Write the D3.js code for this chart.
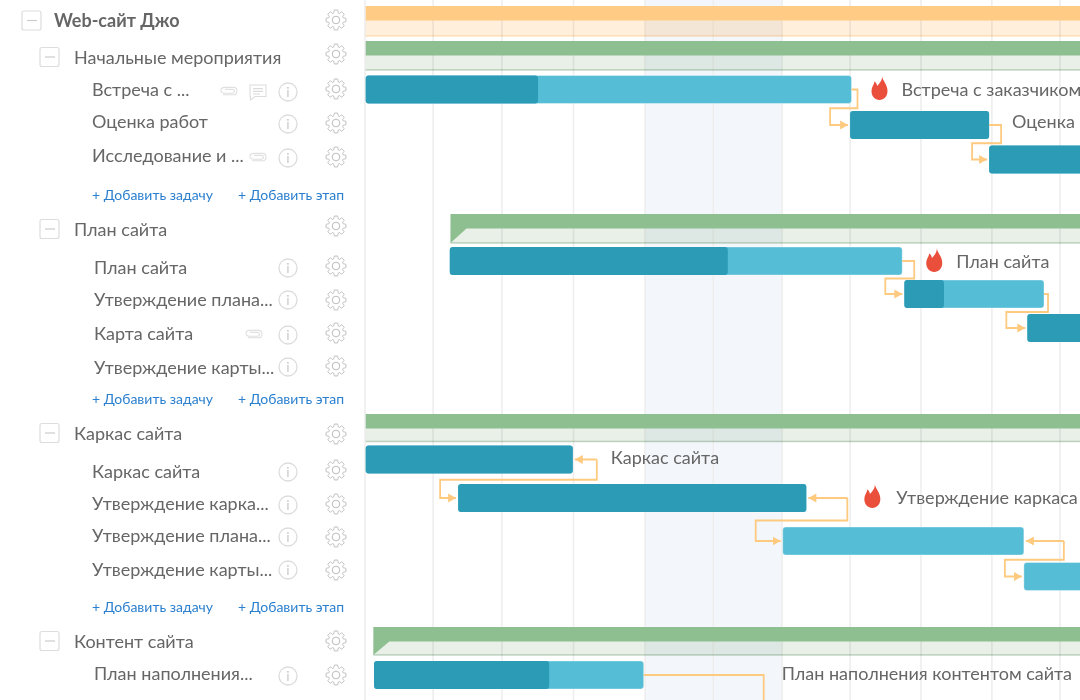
<!DOCTYPE html>
<html>
<head>
<meta charset="utf-8">
<script src="https://cdn.jsdelivr.net/npm/d3@7"></script>
<style>
  html, body { margin: 0; padding: 0; background: #fff; overflow: hidden; }
  svg { display: block; font-family: Lato, "Open Sans", sans-serif; }
  .band { mix-blend-mode: multiply; }
</style>
</head>
<body>
<svg id="gantt" width="1080" height="700"></svg>
<script>
// values are in working days from the left edge of the visible timeline
const gridDays = [0, 0.98, 1.97, 3, 4.03, 5.01, 6, 6.98, 8, 9.02, 10];
const weekendStart = 4.03;
const weekendEnd = 6;

const phaseNames = ["Web-сайт Джо", "Начальные мероприятия", "План сайта", "Каркас сайта", "Контент сайта"];
const phaseStarts = [0.01, 0.01, 1.23, 0.01, 0.12];
const phaseEnds = [12, 12, 12, 12, 12];

const taskNames = ["Встреча с заказчиком", "Оценка", "Исследование и анализ",
  "План сайта", "Утверждение плана сайта", "Карта сайта",
  "Каркас сайта", "Утверждение каркаса", "Утверждение плана", "Утверждение карты",
  "План наполнения контентом сайта"];
const taskStarts = [0.01, 6.98, 8.98, 1.22, 7.76, 9.53, 0.01, 1.34, 6.01, 9.48, 0.13];
const taskEnds = [7.0, 8.98, 12, 7.73, 9.77, 12, 2.99, 6.35, 9.48, 12, 4.01];
const taskDone = [2.49, 8.98, 12, 5.22, 8.33, 12, 2.99, 6.35, 6.01, 9.48, 2.65];
const taskHot = [true, false, false, true, false, false, false, true, false, false, false];
const taskLabelled = [true, true, false, true, false, false, true, true, false, false, true];

const linkFrom = [0, 1, 3, 4, 6, 7, 8];
const linkTo = [1, 2, 4, 5, 7, 8, 9];

const sideLabels = ["Web-сайт Джо", "Начальные мероприятия", "Встреча с ...", "Оценка работ", "Исследование и ...",
  "План сайта", "План сайта", "Утверждение плана...", "Карта сайта", "Утверждение карты...",
  "Каркас сайта", "Каркас сайта", "Утверждение карка...", "Утверждение плана...", "Утверждение карты...",
  "Контент сайта", "План наполнения..."];
const sideLevels = [0, 1, 2, 2, 2, 1, 2, 2, 2, 2, 1, 2, 2, 2, 2, 1, 2];
const sideClips = [2, 4, 8];
const sideComments = [2];
const addTaskText = "+ Добавить задачу";
const addStageText = "+ Добавить этап";

// layout
const phaseTop = [6, 41, 214, 414, 627];
const phaseBandBottom = [36, 70, 243, 441.5, 655];
const phaseColor = ["#ffcb85", "#8ebf91", "#8ebf91", "#8ebf91", "#8ebf91"];
const phaseLight = ["#ffefdb", "#e8f0e8", "#e8f0e8", "#e8f0e8", "#e8f0e8"];
const phaseEdge = ["#ffe6c6", "#c5d8c6", "#c5d8c6", "#c5d8c6", "#c5d8c6"];
const taskY = [89.5, 125, 159.5, 261, 294, 328, 459.5, 498, 541, 576.5, 675];
const labelGap = [50, 23, 0, 54, 0, 0, 38, 90, 0, 0, 138];
const labelDy = [0.5, -3, 0, 1, 0, 0, -1.5, 0, 0, 0, -1];
const flameGap = [22, 0, 0, 22, 0, 0, 0, 24, 0, 0, 0];
const flameDy = [-1.5, 0, 0, -1, 0, 0, 0, -2, 0, 0, 0];
const linkOut = [6, 12, 12, 4, 24, 41, 40];
const linkIn = [20, 17, 19, 21, 18, 27, 19];
const linkBack = [false, false, false, false, true, true, true];
const sideTextY = [21, 58, 90, 122, 156, 230, 268, 300, 334, 368, 434, 472, 504, 536, 570, 642, 674];
const sideGearY = [20, 54, 89, 123, 157, 226, 266, 300, 333, 366, 434, 470, 504, 537, 570, 641, 675];
const sideInfoY = [0, 0, 92, 124, 158, 0, 268, 300, 335, 367, 0, 472, 505, 537, 570, 0, 676];
const sideIndent = [54, 74, 92, 92, 92, 74, 94, 94, 94, 94, 74, 92, 92, 92, 92, 74, 94];
const sideClipX = { 2: 229, 4: 258, 8: 254 };
const addRowY = [195, 399, 607];
const barH = 28;
const teal = "#2b9bb6";
const sky = "#55bdd5";
const linkColor = "#fdca80";
const textColor = "#666";
const iconColor = "#bdbdbd";

const x = d3.scaleLinear().domain([0, 10]).range([365, 1060]);
const svg = d3.select("#gantt");

const defs = svg.append("defs");
defs.append("marker")
  .attr("id", "arrow")
  .attr("viewBox", "0 -5 8 10")
  .attr("refX", 8)
  .attr("markerWidth", 8)
  .attr("markerHeight", 10)
  .attr("markerUnits", "userSpaceOnUse")
  .attr("orient", "auto")
  .append("path")
  .attr("fill", linkColor)
  .attr("d", "M0,-4.5L8,0L0,4.5Z");

// timeline background
const chart = svg.append("g");

chart.append("rect")
  .attr("x", x(weekendStart))
  .attr("width", x(weekendEnd) - x(weekendStart))
  .attr("height", 700)
  .attr("fill", "#f3f6fb");

chart.selectAll("line.grid")
  .data(gridDays)
  .join("line")
  .attr("class", "grid")
  .attr("x1", d => x(d))
  .attr("x2", d => x(d))
  .attr("y1", 0)
  .attr("y2", 700)
  .attr("stroke", "#eeeeee")
  .attr("stroke-width", 1.6);

// phase summary bars
const phases = chart.selectAll("g.phase")
  .data(phaseNames.map((name, i) => i))
  .join("g")
  .attr("class", "phase");

phases.append("rect")
  .attr("class", "band")
  .attr("x", i => x(phaseStarts[i]))
  .attr("y", i => phaseTop[i] + 14)
  .attr("width", i => x(phaseEnds[i]) - x(phaseStarts[i]))
  .attr("height", i => phaseBandBottom[i] - phaseTop[i] - 14)
  .attr("fill", i => phaseLight[i]);

phases.append("line")
  .attr("class", "band")
  .attr("x1", i => x(phaseStarts[i]))
  .attr("x2", i => x(phaseEnds[i]))
  .attr("y1", i => phaseBandBottom[i])
  .attr("y2", i => phaseBandBottom[i])
  .attr("stroke", i => phaseEdge[i])
  .attr("stroke-width", 1.5);

phases.append("path")
  .attr("fill", i => phaseColor[i])
  .attr("d", i => {
    const x0 = x(phaseStarts[i]);
    const x1 = x(phaseEnds[i]);
    const top = phaseTop[i];
    const mid = top + 14.5;
    const bottom = phaseBandBottom[i];
    // only phases that start inside the view show the corner notch
    const notch = phaseStarts[i] > 0.05;
    return notch
      ? `M${x0},${top}H${x1}V${mid}H${x0 + 16}L${x0},${bottom}Z`
      : `M${x0},${top}H${x1}V${mid}H${x0}Z`;
  });

// task bars
const tasks = chart.selectAll("g.task")
  .data(taskNames.map((name, i) => i))
  .join("g")
  .attr("class", "task");

tasks.append("rect")
  .attr("x", i => x(taskStarts[i]))
  .attr("y", i => taskY[i] - barH / 2)
  .attr("width", i => x(taskEnds[i]) - x(taskStarts[i]))
  .attr("height", barH)
  .attr("rx", 3)
  .attr("fill", sky)
  .attr("stroke", "#fff")
  .attr("stroke-opacity", 0.35);

tasks.filter(i => taskDone[i] > taskStarts[i]).append("rect")
  .attr("x", i => x(taskStarts[i]))
  .attr("y", i => taskY[i] - barH / 2)
  .attr("width", i => x(taskDone[i]) - x(taskStarts[i]))
  .attr("height", barH)
  .attr("rx", 3)
  .attr("fill", teal);

const flame = "M2.5,-12C3,-7 8,-4 8,3C8,8.5 4.5,12 0,12C-4.5,12 -8,8.5 -8,3C-8,-1 -5.5,-3 -5,-6.5C-3.5,-5.5 -2.5,-3.8 -2.4,-2C0,-4.5 3,-8 2.5,-12Z";

tasks.filter(i => taskLabelled[i]).append("text")
  .attr("x", i => x(taskEnds[i]) + labelGap[i])
  .attr("y", i => taskY[i] + labelDy[i])
  .attr("dy", ".35em")
  .attr("font-size", 18)
  .attr("fill", textColor)
  .text(i => taskNames[i]);

tasks.filter(i => taskHot[i]).append("path")
  .attr("d", flame)
  .attr("fill", "#ea4f3c")
  .attr("transform", i => `translate(${x(taskEnds[i]) + labelGap[i] - flameGap[i]},${taskY[i] + flameDy[i]})`);

// dependency links
function linkPath(k) {
  const a = linkFrom[k];
  const b = linkTo[k];
  const endX = x(taskEnds[a]);
  const startX = x(taskStarts[b]);
  const y0 = taskY[a];
  const y1 = taskY[b];
  const mid = (y0 + y1) / 2 + 1;
  const right = endX + linkOut[k];
  const left = startX - linkIn[k];
  const tip = startX - 2;
  if (linkBack[k]) {
    return `M${right},${y0}H${endX + 2}M${right},${y0}V${mid}H${left}V${y1}H${tip}`;
  }
  return `M${endX},${y0}H${right}V${mid}H${left}V${y1}H${tip}`;
}

chart.selectAll("path.link")
  .data(linkFrom.map((d, k) => k))
  .join("path")
  .attr("class", "link")
  .attr("d", linkPath)
  .attr("fill", "none")
  .attr("stroke", linkColor)
  .attr("stroke-width", 1.8)
  .attr("marker-end", "url(#arrow)");

// arrow heads on links that return to the end of the source bar
chart.selectAll("path.back")
  .data(linkFrom.map((d, k) => k).filter(k => linkBack[k]))
  .join("path")
  .attr("class", "back")
  .attr("fill", linkColor)
  .attr("d", k => {
    const tip = x(taskEnds[linkFrom[k]]) + 2;
    const y = taskY[linkFrom[k]];
    return `M${tip},${y}l8,-4.5v9Z`;
  });

// link of the last visible task runs off the bottom of the view
chart.append("path")
  .attr("d", `M${x(taskEnds[10])},${taskY[10]}H${x(taskEnds[10]) + 120}V700`)
  .attr("fill", "none")
  .attr("stroke", linkColor)
  .attr("stroke-width", 1.8);

// left task list
const side = svg.append("g");

const gearPoints = d3.range(8).flatMap(t => {
  const a = t * Math.PI / 4;
  return [[a - 0.3, 7.5], [a - 0.17, 10], [a + 0.17, 10], [a + 0.3, 7.5]];
});
const gear = d3.lineRadial()
  .angle(d => d[0])
  .radius(d => d[1])
  .curve(d3.curveCardinalClosed.tension(0.8))(gearPoints);

function drawGear(y) {
  const g = side.append("g").attr("transform", `translate(336,${y})`)
    .attr("fill", "none").attr("stroke", iconColor).attr("stroke-width", 1);
  g.append("path").attr("d", gear);
  g.append("circle").attr("r", 3.8);
}

function drawInfo(y) {
  const g = side.append("g").attr("transform", `translate(288,${y})`);
  g.append("circle").attr("r", 9).attr("fill", "#fff").attr("stroke", "#dcdcdc").attr("stroke-width", 1.3);
  g.append("text").attr("text-anchor", "middle").attr("y", 5).attr("font-size", 14).attr("fill", "#c9c9c9").text("i");
}

function drawClip(cx, y) {
  side.append("path")
    .attr("transform", `translate(${cx},${y})`)
    .attr("d", "M-6,3.8H4.5C6.6,3.8 8,2.4 8,0.2C8,-2 6.6,-3.6 4.5,-3.6H-4.5C-6.4,-3.6 -8,-2.3 -8,-0.4C-8,1.4 -6.4,2.2 -4.6,2.2H3.6C4.7,2.2 5.4,1.2 5.4,0C5.4,-1 4.7,-1.6 3.6,-1.6H-4")
    .attr("fill", "none")
    .attr("stroke", "#e0e0e0")
    .attr("stroke-width", 1.1);
}

function drawComment(cx, y) {
  side.append("path")
    .attr("transform", `translate(${cx},${y})`)
    .attr("d", "M-8,-7H8V4.5H-3L-7.5,8V4.5H-8ZM-5,-3.4H5M-5,-0.6H5M-5,2H2")
    .attr("fill", "none")
    .attr("stroke", "#dcdcdc")
    .attr("stroke-width", 1.1);
}

function drawToggle(level, y) {
  const left = level === 0 ? 22 : 40;
  const top = y - 10;
  side.append("rect")
    .attr("x", left).attr("y", top)
    .attr("width", 19).attr("height", 19).attr("rx", 2)
    .attr("fill", "#fff").attr("stroke", "#ddd").attr("stroke-width", 1.2);
  side.append("line")
    .attr("x1", left + 5).attr("x2", left + 15)
    .attr("y1", top + 9.5).attr("y2", top + 9.5)
    .attr("stroke", "#ccc").attr("stroke-width", 1.2);
}

sideLabels.forEach((label, i) => {
  side.append("text")
    .attr("x", sideIndent[i])
    .attr("y", sideTextY[i])
    .attr("dy", ".35em")
    .attr("font-size", 18)
    .attr("font-weight", sideLevels[i] === 0 ? 700 : 400)
    .attr("fill", textColor)
    .text(label);
  drawGear(sideGearY[i]);
  if (sideLevels[i] < 2) {
    drawToggle(sideLevels[i], sideLevels[i] === 0 ? 21 : sideTextY[i] - 0.5);
  } else {
    drawInfo(sideInfoY[i]);
  }
  if (sideClips.includes(i)) drawClip(sideClipX[i], sideInfoY[i] - 1);
  if (sideComments.includes(i)) drawComment(258, sideInfoY[i]);
});

addRowY.forEach(y => {
  [[92, addTaskText], [238, addStageText]].forEach(([left, txt]) => {
    side.append("text")
      .attr("x", left)
      .attr("y", y)
      .attr("dy", ".35em")
      .attr("font-size", 14)
      .attr("fill", "#2a7fce")
      .text(txt);
  });
});
</script>
</body>
</html>
